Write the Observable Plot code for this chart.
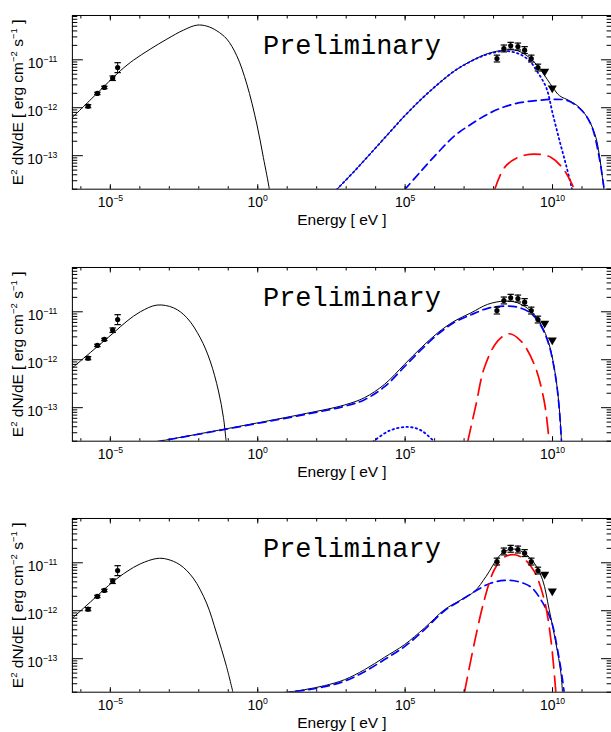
<!DOCTYPE html>
<html><head><meta charset="utf-8">
<script src="https://cdn.jsdelivr.net/npm/d3@7"></script>
<script src="https://cdn.jsdelivr.net/npm/@observablehq/plot@0.6"></script>
<style>
html,body{margin:0;padding:0;background:#fff;overflow:hidden}
#chart{width:611px;overflow:hidden}
#chart svg{display:block}
</style></head><body><div id="chart"></div>
<script>
// ---------- axes ----------
const xDomain = [5.16e-7, 1e12];
const yDomain = [2e-14, 8.4e-11];
const xMajorTicks = [1e-5, 1, 1e5, 1e10];
const xTickLabels = ["10^−5", "10^0", "10^5", "10^10"];
const yMajorTicks = [1e-13, 1e-12, 1e-11];
const yTickLabels = ["10^−13", "10^−12", "10^−11"];
const xLabel = "Energy [ eV ]";
const yLabel = "E^2 dN/dE [ erg cm^−2 s^−1 ]";
const watermark = "Preliminary";

// ---------- measured points ----------
const radioE  = [1.76e-6, 3.63e-6, 6.27e-6, 1.2e-5, 1.77e-5];
const radioF  = [1.08e-12, 1.99e-12, 2.65e-12, 4.15e-12, 6.9e-12];
const radioLo = [1.0e-12, 1.88e-12, 2.5e-12, 3.7e-12, 5.4e-12];
const radioHi = [1.16e-12, 2.1e-12, 2.8e-12, 4.6e-12, 8.7e-12];
const gammaE  = [1.3e8, 2.24e8, 3.8e8, 6.7e8, 1.13e9, 1.9e9, 3.2e9];
const gammaF  = [1.06e-11, 1.72e-11, 1.96e-11, 1.89e-11, 1.59e-11, 1.06e-11, 6.9e-12];
const gammaLo = [9.0e-12, 1.46e-11, 1.66e-11, 1.6e-11, 1.35e-11, 9.0e-12, 5.85e-12];
const gammaHi = [1.25e-11, 2.03e-11, 2.31e-11, 2.23e-11, 1.88e-11, 1.25e-11, 8.1e-12];
const ulE = [5.4e9, 9.8e9];
const ulF = [5.75e-12, 2.57e-12];

// ---------- model curves: [energy eV, E^2 dN/dE] ----------
// panel 1
const p1Sync = [[5.2e-7,6.3e-13],[3.36e-6,1.93e-12],[2.18e-5,5.9e-12],[6.15e-5,9.86e-12],[2.26e-4,1.67e-11],[8.3e-4,2.7e-11],[3.03e-3,4.16e-11],[8.6e-3,5.28e-11],[1.88e-2,5.03e-11],[4.1e-2,4.02e-11],[8.95e-2,2.7e-11],[0.195,1.21e-11],[0.426,3.12e-12],[0.93,4.57e-13],[1.55,9.2e-14],[2.48,1.96e-14],[2.7,1.2e-14]];
const p1Total = [[473,1.96e-14],[1970,4.87e-14],[7250,1.17e-13],[2.65e4,2.83e-13],[9.7e4,6.8e-13],[3.58e5,1.52e-12],[1.31e6,3.12e-12],[4.8e6,5.9e-12],[1.77e7,9.5e-12],[6.44e7,1.35e-11],[2.37e8,1.59e-11],[6.68e8,1.54e-11],[1.9e9,1.03e-11],[4.14e9,5.9e-12],[1.02e10,2.65e-12],[1.73e10,1.78e-12],[3.77e10,1.4e-12],[8.2e10,1.01e-12],[1.75e11,5.37e-13],[2.95e11,2.41e-13],[3.8e11,1.1e-13],[4.93e11,3.53e-14],[5.6e11,1.86e-14]];
const p1Dotted = [[473,1.96e-14],[1970,4.87e-14],[7250,1.17e-13],[2.65e4,2.83e-13],[9.7e4,6.8e-13],[3.58e5,1.52e-12],[1.31e6,3.12e-12],[4.8e6,5.9e-12],[1.77e7,9.4e-12],[6.44e7,1.31e-11],[2.7e8,1.52e-11],[7.6e8,1.31e-11],[1.66e9,9.5e-12],[3.18e9,5.4e-12],[6.1e9,2.65e-12],[1.02e10,7.4e-13],[1.73e10,2.05e-13],[2.91e10,6.2e-14],[4.64e10,1.96e-14]];
const p1Dashed = [[9.7e4,1.96e-14],[3.58e5,4.87e-14],[1.31e6,1.17e-13],[4.8e6,2.61e-13],[1.77e7,4.57e-13],[6.44e7,7.4e-13],[2.37e8,1.05e-12],[8.7e8,1.29e-12],[3.18e9,1.42e-12],[1.17e10,1.5e-12],[3.3e10,1.4e-12],[9.8e10,8.8e-13],[2.1e11,4.2e-13],[3.8e11,9.5e-14],[5.3e11,2.6e-14],[6.4e11,1.2e-14]];
const p1Red = [[1.09e8,1.96e-14],[2.37e8,5.7e-14],[6.68e8,9.2e-14],[2.45e9,1.08e-13],[9.0e9,9.2e-14],[2.55e10,4.87e-14],[5.56e10,1.96e-14]];
// panel 2
const p2Sync = [[5.2e-7,6.8e-13],[2.6e-6,1.58e-12],[1.29e-5,3.65e-12],[3.68e-5,6.4e-12],[1.04e-4,1.0e-11],[3.81e-4,1.38e-11],[1.39e-3,1.21e-11],[3.96e-3,7.5e-12],[1.12e-2,2.87e-12],[2.43e-2,9.4e-13],[4.65e-2,2.23e-13],[6.87e-2,6.2e-14],[8.5e-2,1.93e-14]];
const p2Total = [[3.5e-4,1.93e-14],[44.6,7.6e-14],[883,1.14e-13],[4200,1.62e-13],[2.0e4,3.07e-13],[9.5e4,8.0e-13],[3.5e5,1.78e-12],[1.28e6,3.65e-12],[4.69e6,6.4e-12],[1.72e7,9.5e-12],[6.3e7,1.43e-11],[2.31e8,1.67e-11],[6.5e8,1.54e-11],[1.85e9,1.03e-11],[4.04e9,5.5e-12],[7.7e9,2.09e-12],[1.3e10,4.2e-13],[1.69e10,1.0e-13],[2.02e10,1.93e-14]];
const p2Dashed = [[3.5e-4,1.93e-14],[44.6,7.3e-14],[883,1.07e-13],[4200,1.47e-13],[2.0e4,2.74e-13],[9.5e4,7.15e-13],[3.5e5,1.62e-12],[1.28e6,3.39e-12],[4.69e6,6.04e-12],[1.72e7,8.66e-12],[6.3e7,1.18e-11],[2.31e8,1.31e-11],[6.5e8,1.25e-11],[1.85e9,9.3e-12],[4.04e9,5.1e-12],[7.7e9,1.96e-12],[1.3e10,4.0e-13],[1.69e10,9.5e-14],[2.02e10,1.93e-14]];
const p2Dotted = [[8.0e3,1.93e-14],[2.95e4,3.32e-14],[1.23e5,3.96e-14],[3.58e5,3.32e-14],[9.86e5,1.93e-14]];
const p2Red = [[1.32e7,1.93e-14],[2.55e7,1.18e-13],[4.86e7,6.8e-13],[1.37e8,2.45e-12],[3.42e8,3.48e-12],[8.5e8,2.45e-12],[2.4e9,8.0e-13],[5.2e9,1.38e-13],[7.7e9,1.93e-14]];
// panel 3
const p3Sync = [[5.2e-7,7.0e-13],[2.6e-6,1.71e-12],[1.26e-5,4.07e-12],[3.68e-5,6.6e-12],[1.04e-4,9.5e-12],[3.81e-4,1.23e-11],[8.3e-4,1.19e-11],[2.28e-3,9.1e-12],[6.45e-3,4.8e-12],[1.83e-2,1.45e-12],[3.99e-2,3.43e-13],[8.7e-2,6.9e-14],[0.146,1.93e-14]];
const p3Total = [[7.2,1.93e-14],[39,2.26e-14],[186,2.74e-14],[883,3.65e-14],[4200,5.9e-14],[2.0e4,1.07e-13],[9.5e4,1.96e-13],[4.52e5,4.36e-13],[2.15e6,1.05e-12],[7.9e6,1.69e-12],[2.23e7,2.52e-12],[5.56e7,5.19e-12],[1.37e8,1.25e-11],[2.31e8,1.72e-11],[5.05e8,1.93e-11],[1.1e9,1.59e-11],[2.4e9,9.86e-12],[4.58e9,4.43e-12],[7.7e9,1.05e-12],[1.3e10,2.12e-13],[1.92e10,5.0e-14],[2.18e10,1.93e-14]];
const p3Dashed = [[7.2,1.93e-14],[39,2.2e-14],[186,2.61e-14],[883,3.4e-14],[4200,5.36e-14],[2.0e4,9.6e-14],[9.5e4,1.78e-13],[4.52e5,4.02e-13],[2.15e6,1.0e-12],[7.9e6,1.66e-12],[2.88e7,2.74e-12],[8.2e7,3.78e-12],[2.31e8,4.28e-12],[6.53e8,4.07e-12],[1.85e9,3.12e-12],[4.04e9,1.69e-12],[8.8e9,6.5e-13],[1.48e10,1.54e-13],[2.18e10,3.65e-14],[2.49e10,1.93e-14]];
const p3Red = [[1.02e7,1.93e-14],[2.23e7,2.12e-13],[4.86e7,1.69e-12],[1.06e8,7.15e-12],[2.31e8,1.31e-11],[5.05e8,1.47e-11],[1.1e9,1.19e-11],[2.4e9,6.6e-12],[5.24e9,1.69e-12],[8.8e9,2.49e-13],[1.3e10,1.93e-14]];

// ---------- helpers ----------
const BLUE = "#0000ff", RED = "#ff0000";
const xMinorTicks = d3.range(-6, 12).map(e => 10 ** e);
const yMinorTicks = d3.range(-14, -10).flatMap(e => d3.range(2, 10).map(k => k * 10 ** e))
  .filter(v => v >= yDomain[0] && v <= yDomain[1]);
const capSymbol = {draw(ctx, size) { const r = Math.sqrt(size / Math.PI); ctx.moveTo(-r, 0); ctx.lineTo(r, 0); }};
const blank = () => "";

function points(E, F, Lo, Hi) {
  const idx = d3.range(E.length);
  return [
    Plot.ruleX(idx, {x: i => E[i], y1: i => Lo[i], y2: i => Hi[i], stroke: "black", strokeWidth: 1}),
    Plot.dot(idx, {x: i => E[i], y: i => Lo[i], symbol: capSymbol, r: 3.2, stroke: "black", strokeWidth: 1.2}),
    Plot.dot(idx, {x: i => E[i], y: i => Hi[i], symbol: capSymbol, r: 3.2, stroke: "black", strokeWidth: 1.2}),
    Plot.dot(idx, {x: i => E[i], y: i => F[i], r: 2.6, fill: "black", stroke: "none"})
  ];
}

function panel({sync, total, dashed, dotted, red, height, marginBottom}) {
  const line = (data, o) => Plot.line(data, {x: d => d[0], y: d => d[1], curve: "catmull-rom", clip: true, ...o});
  return Plot.plot({
    width: 612, height, marginTop: 15, marginLeft: 72, marginRight: 0, marginBottom,
    x: {type: "log", domain: xDomain, axis: null},
    y: {type: "log", domain: yDomain, axis: null},
    style: {fontFamily: "'Liberation Sans', Arial, Helvetica, sans-serif", fontSize: "14px", background: "#fff", color: "black", overflow: "visible"},
    marks: [
      line(sync, {stroke: "black", strokeWidth: 1}),
      line(total, {stroke: "black", strokeWidth: 1}),
      line(dotted, {stroke: BLUE, strokeWidth: 1.8, strokeDasharray: "1.5,3.2"}),
      line(dashed, {stroke: BLUE, strokeWidth: 1.7, strokeDasharray: "8,5"}),
      line(red, {stroke: RED, strokeWidth: 1.7, strokeDasharray: "16,8"}),
      ...points(radioE, radioF, radioLo, radioHi),
      ...points(gammaE, gammaF, gammaLo, gammaHi),
      Plot.dot(d3.range(ulE.length), {x: i => ulE[i], y: i => ulF[i], symbol: "triangle", rotate: 180, r: 3.4, fill: "black", stroke: "none"}),
      Plot.frame({stroke: "black", strokeWidth: 1}),
      Plot.axisX(xMinorTicks, {anchor: "bottom", tickSize: -2.5, tickFormat: blank, label: null}),
      Plot.axisX(xMinorTicks, {anchor: "top", tickSize: -2.5, tickFormat: blank, label: null}),
      Plot.axisX(xMajorTicks, {anchor: "bottom", tickSize: -4.5, tickFormat: blank, label: null}),
      Plot.axisX(xMajorTicks, {anchor: "top", tickSize: -4.5, tickFormat: blank, label: null}),
      Plot.axisY(yMinorTicks, {anchor: "left", tickSize: -5.4, tickFormat: blank, label: null}),
      Plot.axisY(yMinorTicks, {anchor: "right", tickSize: -5.4, tickFormat: blank, label: null}),
      Plot.axisY(yMajorTicks, {anchor: "left", tickSize: -11, tickFormat: blank, label: null}),
      Plot.axisY(yMajorTicks, {anchor: "right", tickSize: -11, tickFormat: blank, label: null}),
      Plot.text(xMajorTicks, {x: d => d, frameAnchor: "bottom", dy: 8, lineAnchor: "top", textAnchor: "middle", text: d => xTickLabels[xMajorTicks.indexOf(d)], fontSize: 14, fill: "black"}),
      Plot.text(yMajorTicks, {y: d => d, frameAnchor: "left", dx: -15, dy: 4, lineAnchor: "middle", textAnchor: "end", text: d => yTickLabels[yMajorTicks.indexOf(d)], fontSize: 14, fill: "black"}),
      Plot.text([watermark], {frameAnchor: "top-left", dx: 280, dy: 29.5, textAnchor: "middle", lineAnchor: "middle", fontFamily: "'Liberation Mono', 'Courier New', monospace", fontSize: 27, fill: "black"}),
      Plot.text([xLabel], {frameAnchor: "bottom", dy: 31, textAnchor: "middle", lineAnchor: "middle", fontSize: 15.5, fill: "black"}),
      Plot.text([yLabel], {frameAnchor: "left", dx: -54, rotate: -90, textAnchor: "middle", lineAnchor: "middle", fontSize: 15.5, fill: "black"})
    ]
  });
}

function supify(root) {
  const NS = "http://www.w3.org/2000/svg";
  root.querySelectorAll("text").forEach(el => {
    const s = el.textContent;
    if (!s.includes("^")) return;
    const fs = parseFloat(getComputedStyle(el).fontSize) || 14;
    const up = fs * 0.42;
    el.textContent = "";
    let shifted = 0;
    const add = (txt, sup) => {
      const t = document.createElementNS(NS, "tspan");
      t.textContent = txt;
      if (sup) { t.setAttribute("font-size", (fs * 0.62) + "px"); t.setAttribute("dy", -up); shifted = up; }
      else if (shifted) { t.setAttribute("dy", shifted); shifted = 0; }
      el.appendChild(t);
    };
    const re = /\^([^\s\]]+)/g;
    let last = 0, m;
    while ((m = re.exec(s))) {
      if (m.index > last) add(s.slice(last, m.index), false);
      add(m[1], true);
      last = re.lastIndex;
    }
    if (last < s.length) add(s.slice(last), false);
  });
}

const container = document.getElementById("chart");
[
  {sync: p1Sync, total: p1Total, dashed: p1Dashed, dotted: p1Dotted, red: p1Red, height: 252, marginBottom: 63},
  {sync: p2Sync, total: p2Total, dashed: p2Dashed, dotted: p2Dotted, red: p2Red, height: 252, marginBottom: 63},
  {sync: p3Sync, total: p3Total, dashed: p3Dashed, dotted: [], red: p3Red, height: 228, marginBottom: 39}
].forEach(cfg => container.appendChild(panel(cfg)));
supify(container);
</script></body></html>
